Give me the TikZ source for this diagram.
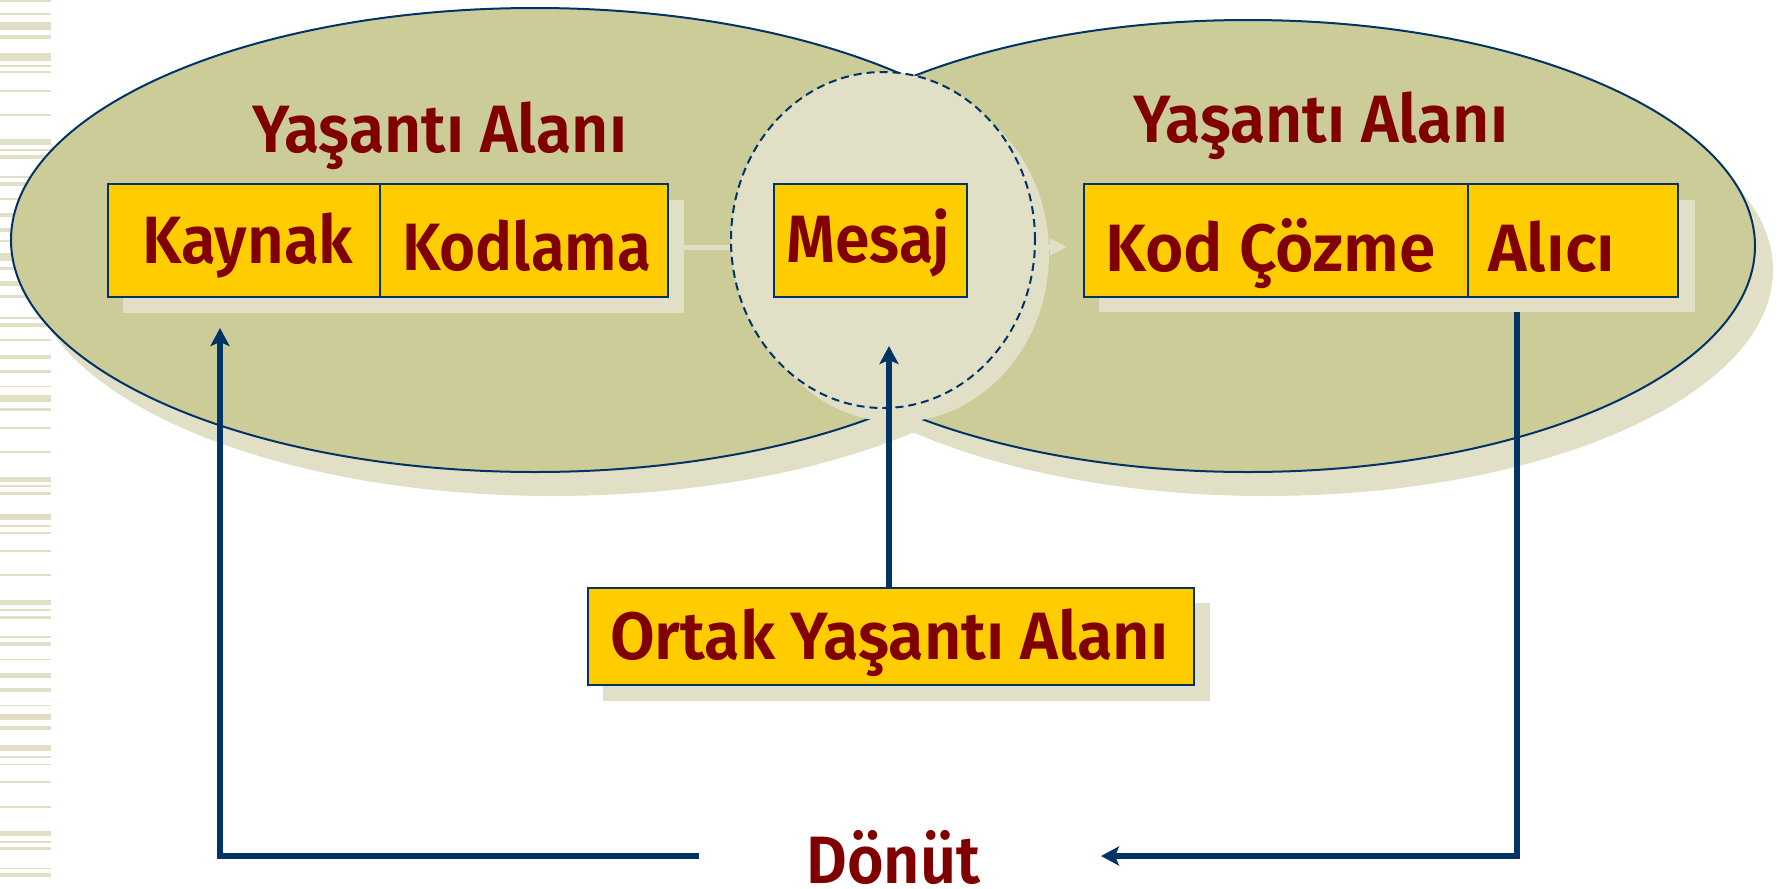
\documentclass[tikz,border=0pt]{standalone}
\usepackage{fontspec}
\setmainfont{Fira Sans}[BoldFont={Fira Sans SemiBold}]
\usetikzlibrary{arrows.meta,shapes.geometric}
\definecolor{cOlive}{HTML}{CCCC99}
\definecolor{cShade}{HTML}{E1E0C6}
\definecolor{cNavy}{HTML}{003366}
\definecolor{cGold}{HTML}{FFCC00}
\definecolor{cRed}{HTML}{800000}
\newlength\fitlen
\newcommand\fitto[2]{\settowidth\fitlen{#2}\pgfmathsetmacro\fitsx{#1/\fitlen}\scalebox{\fitsx}[1]{#2}}
\begin{document}
\begin{tikzpicture}[x=1pt,y=-1pt,
  area/.style={ellipse, draw=cNavy, fill=cOlive, line width=2pt, inner sep=0pt},
  box/.style={draw=cNavy, fill=cGold, line width=1.6pt, inner sep=0pt, anchor=north west},
  lbl/.style={text=cRed, font=\bfseries\fontsize{67}{80}\selectfont, inner sep=0pt, anchor=base west},
  fb/.style={draw=cNavy, line width=5.5pt, line join=miter},
  tip/.style={-{Stealth[length=18pt,width=19pt,inset=4pt]}}]
\fill[white] (0,0) rectangle (1781,889);
\useasboundingbox (0,0) rectangle (1781,889);
% decorative stripes
\foreach \a/\b in {0/2,13/15,22/30,35/39,53/61,65/67,71/73,90/92,114/116,139/145,149/151,155/159,176/178,182/186,198/200,213/217,228/232,240/242,253/261,267/270,281/286,295/298,317/319,323/327,339/341,355/359,370/373,386/387,395/402,408/411,427/429,451/453,477/482,485/487,492/495,514/520,525/527,532/534,550/552,574/576,600/605,609/611,616/619,636/638,642/646,659/660,673/678,688/692,705/706,714/720,726/730,745/751,756/758,764/765,781/783,806/808,831/836,841/843,847/850,868/869,873/877}
  \fill[cShade] (0,\a) rectangle (51,\b);
% ellipse shadows
\fill[cShade] (553,264) ellipse [x radius=524pt, y radius=232pt];
\fill[cShade] (1266,270) ellipse [x radius=507pt, y radius=226pt];
% experience areas
\node[area, minimum width=1048pt, minimum height=464pt] (leftarea) at (535,240) {};
\node[area, minimum width=1014pt, minimum height=452pt] (rightarea) at (1248,246) {};
% shadow of the message flow
\draw[cShade, line width=5pt, -{Triangle[length=17pt,width=16pt]}] (684,247) -- (1067,247);
% common area
\fill[cShade] (897,254) ellipse [x radius=152pt, y radius=168pt];
\node[ellipse, draw=cNavy, fill=cShade, line width=2pt, dash pattern=on 8pt off 5pt, inner sep=0pt, minimum width=304pt, minimum height=336pt] (common) at (883,240) {};
% labels of areas
\node[lbl] (yasL) at (252,152) {\fitto{375}{Yaşantı Alanı}};
\node[lbl] (yasR) at (1133,142) {\fitto{375}{Yaşantı Alanı}};
% box shadows
\fill[cShade] (123,200) rectangle (684,313);
\fill[cShade] (1099,200) rectangle (1695,312);
\fill[cShade] (603,603) rectangle (1210,701);
% boxes
\node[box, minimum width=272pt, minimum height=113pt] (kaynak) at (107,183) {};
\node[box, minimum width=288pt, minimum height=113pt] (kodlama) at (379,183) {};
\node[box, minimum width=193pt, minimum height=113pt] (mesaj) at (773,183) {};
\node[box, minimum width=384pt, minimum height=113pt] (kodcozme) at (1083,183) {};
\node[box, minimum width=210pt, minimum height=113pt] (alici) at (1467,183) {};
\node[box, minimum width=606pt, minimum height=97pt] (ortak) at (587,587) {};
% box texts
\node[lbl] (tkaynak) at (142,263) {\fitto{211}{Kaynak}};
\node[lbl] (tkodlama) at (402,270) {\fitto{249}{Kodlama}};
\node[lbl] (tmesaj) at (786,262) {\fitto{164}{Mesaj}};
\node[lbl] (tkodcozme) at (1105,271) {\fitto{330}{Kod Çözme}};
\node[lbl] (talici) at (1488,271) {\fitto{127}{Alıcı}};
\node[lbl] (tortak) at (610,659) {\fitto{558}{Ortak Yaşantı Alanı}};
\node[lbl] (donut) at (806,883) {\fitto{174}{Dönüt}};
% connectors
\coordinate (mtip) at (889,346);
\draw[fb, tip] (ortak.north -| mtip) -- (mtip);
\coordinate (fbstart) at (1517,312);
\coordinate (fbcornerR) at (1517,856);
\coordinate (fbendR) at (1101,856);
\draw[fb, tip] (fbstart) -- (fbcornerR) -- (fbendR);
\coordinate (fbstartL) at (699,856);
\coordinate (fbcornerL) at (220,856);
\coordinate (ktip) at (220,328);
\draw[fb, tip] (fbstartL) -- (fbcornerL) -- (ktip);
\end{tikzpicture}
\end{document}
